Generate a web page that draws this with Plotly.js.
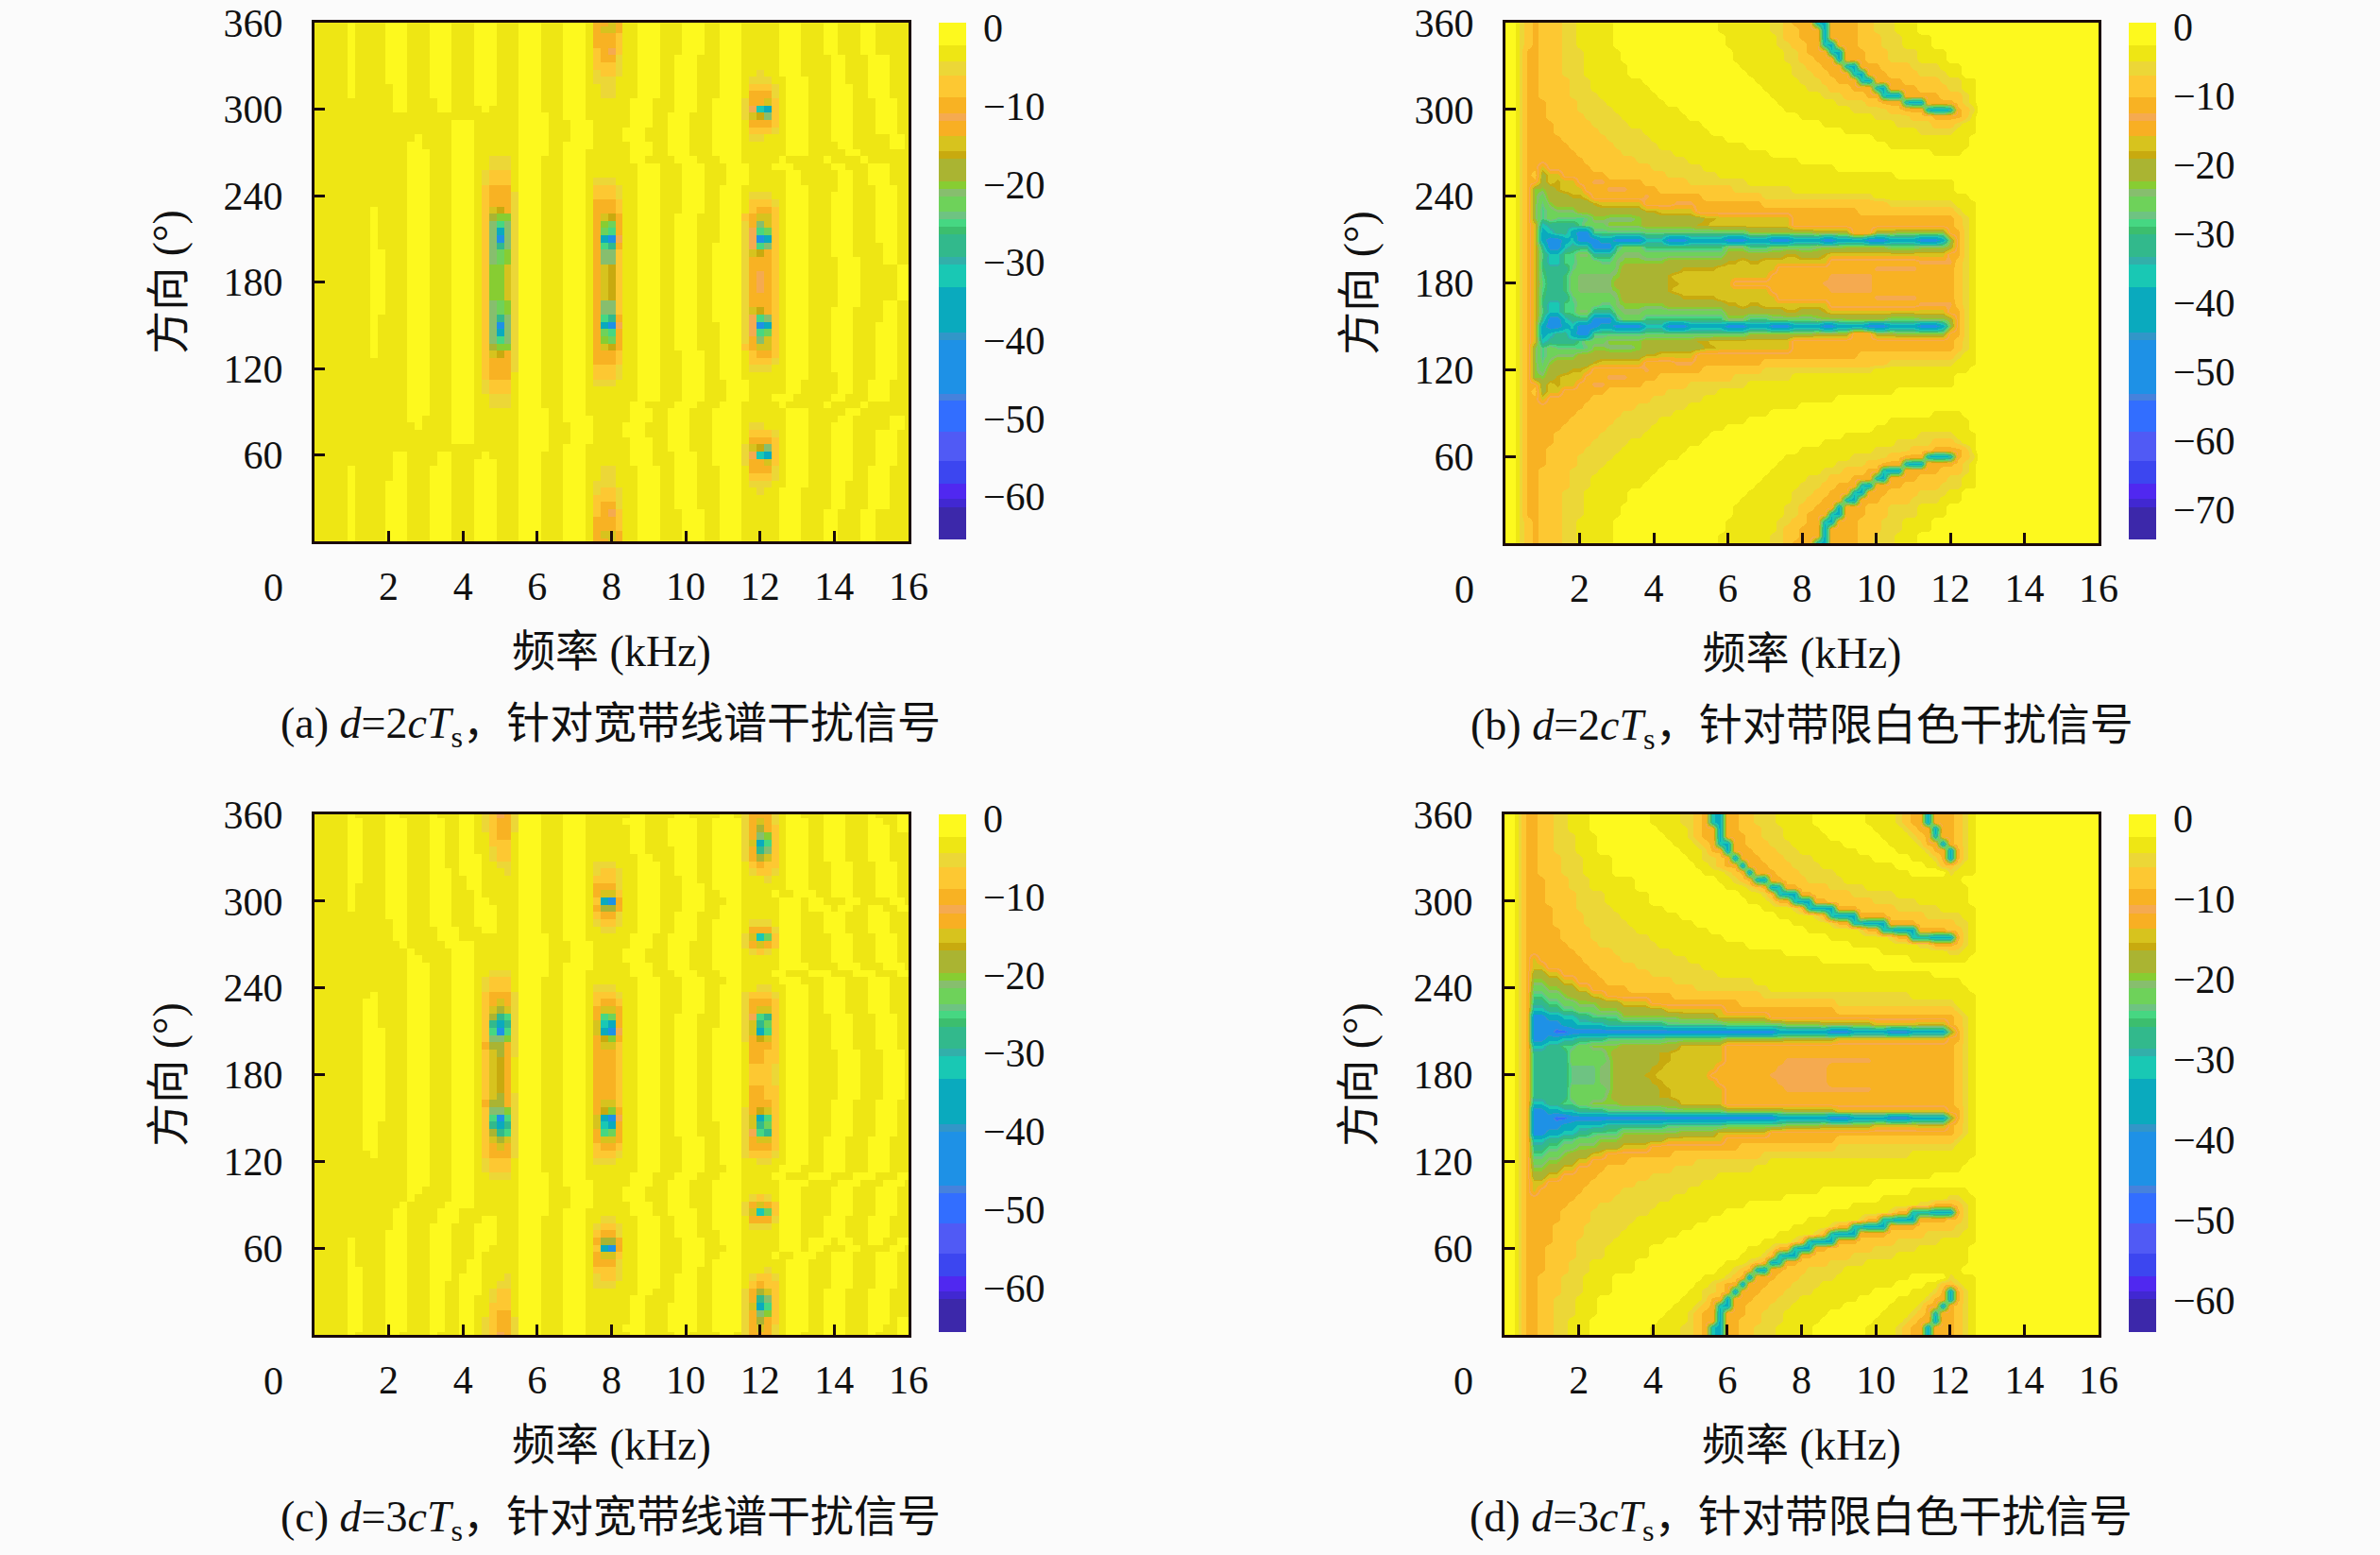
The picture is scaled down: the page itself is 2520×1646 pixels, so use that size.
<!DOCTYPE html>
<html>
<head>
<meta charset="utf-8">
<script src="https://cdn.plot.ly/plotly-3.0.1.min.js"></script>
<style>
html, body { margin: 0; padding: 0; background: #fbfbfb; }
#chart { width: 2520px; height: 1646px; }
</style>
</head>
<body>
<div id="chart"></div>
<script>
// grid of the response maps
var freqs = [0,0.2,0.4,0.6,0.8,1,1.2,1.4,1.6,1.8,2,2.2,2.4,2.6,2.8,3,3.2,3.4,3.6,3.8,4,4.2,4.4,4.6,4.8,5,5.2,5.4,5.6,5.8,6,6.2,6.4,6.6,6.8,7,7.2,7.4,7.6,7.8,8,8.2,8.4,8.6,8.8,9,9.2,9.4,9.6,9.8,10,10.2,10.4,10.6,10.8,11,11.2,11.4,11.6,11.8,12,12.2,12.4,12.6,12.8,13,13.2,13.4,13.6,13.8,14,14.2,14.4,14.6,14.8,15,15.2,15.4,15.6,15.8,16];
var dirs = [0,5,10,15,20,25,30,35,40,45,50,55,60,65,70,75,80,85,90,95,100,105,110,115,120,125,130,135,140,145,150,155,160,165,170,175,180,185,190,195,200,205,210,215,220,225,230,235,240,245,250,255,260,265,270,275,280,285,290,295,300,305,310,315,320,325,330,335,340,345,350,355,360];

// colour bands of the colour bar, top to bottom: key, lower edge (fraction of bar), colour
var bandKeys = ["a","b","c","d","e","f","E","g","h","i","j","k","l","m","n","o","p","q","r","s","t","u","v","w","x","y","z","A","B"];
var bandEdges = [0.043,0.075,0.102,0.145,0.175,0.191,0.22,0.249,0.263,0.307,0.322,0.336,0.366,0.38,0.395,0.41,0.453,0.468,0.511,0.599,0.614,0.718,0.732,0.791,0.849,0.892,0.922,0.937,1];
var bandColors = ["#fdf91e","#eee614","#ecd737","#fdc832","#f8b223","#f5aa50","#f8af23","#d7c31e","#c8aa0f","#aab432","#87cd32","#87be6e","#6ed25a","#6ec382","#46d782","#3cbe6e","#32b98c","#32afaa","#19c8b4","#0aaabe","#3296c8","#1e91e6","#4682dc","#326eff","#505af5","#3c46f0","#5028f0","#4128d2","#3c28aa"];

// top of the colour bar and its bottom, dB
var zRangeA = [-65.5, 0.66];
var zRangeB = [-74.4, 0.55];
var zRangeC = [-65.7, 0.55];
var zRangeD = [-64, 0.47];

// rows from 360 down to 180 degrees, "12a" = band a from column 12 on
var rowsA = [
"5a 6b 10a 13b 16a 19b 22a 25b 28a 31b 34a 37b 38e 39E 40g 41e 42b 44a 47b 50a 53b 55a 58b 63a 66b 69a 71b 74a 76b",
"5a 6b 10a 13b 16a 19b 22a 25b 28a 31b 34a 37b 38e 39g 41e 42b 44a 47b 50a 53b 55a 58b 63a 66b 69a 71b 74a 76b",
"5a 6b 10a 13b 16a 19b 22a 25b 28a 31b 34a 37b 38e 41d 42b 44a 47b 50a 53b 55a 58b 63a 66b 69a 71b 74a 76b",
"5a 6b 10a 13b 16a 19b 22a 25b 28a 31b 34a 37b 38e 41d 42b 44a 47b 50a 53b 55a 58b 63a 66b 69a 71b 74a 76b",
"5a 6b 10a 13b 16a 19b 22a 25b 28a 31b 34a 37b 38d 39e 40f 41d 42b 44a 47b 50a 53b 55a 58b 63a 66b 69a 71b 74a 76b",
"5a 6b 10a 13b 16a 19b 22a 25b 28a 31b 34a 37b 38d 39e 41c 42b 44a 47b 49a 52b 55a 58b 63a 66b 70a 72b 75a 78b",
"5a 6b 10a 13b 16a 19b 22a 25b 28a 31b 34a 37b 38d 41c 42b 44a 47b 49a 52b 55a 58b 63a 66b 70a 72b 75a 78b",
"5a 6b 10a 13b 16a 19b 22a 25b 28a 31b 34a 37b 38c 39d 41c 42b 44a 47b 49a 52b 55a 58b 60c 61b 63a 66b 70a 72b 75a 78b",
"5a 6b 10a 13b 16a 19b 22a 25b 28a 31b 34a 37b 38c 41b 44a 47b 49a 52b 55a 58b 59c 62b 64a 67b 70a 72b 75a 78b",
"5a 6b 11a 13b 16a 19b 22a 25b 28a 31b 34a 37b 39c 41b 44a 47b 49a 52b 55a 58b 59d 62c 63b 64a 67b 70a 73b 75a 78b",
"5a 6b 11a 13b 16a 19b 22a 25b 28a 31b 34a 37b 39c 41b 44a 47b 49a 52b 55a 58b 59e 62c 63b 64a 67b 70a 73b 75a 78b",
"11a 13b 17a 19b 22a 25b 28a 31b 34a 37b 43a 46b 49a 52b 54a 58c 59e 61g 62d 63b 64a 67b 70a 73b 76a 79b",
"11a 13b 17a 19b 23a 24b 28a 31b 34a 37b 43a 46b 49a 52b 54a 58c 59f 60r 61s 62d 63b 64a 67b 70a 73b 76a 79b",
"28a 32b 34a 37b 43a 46b 48a 51b 54a 58c 59g 60h 61k 62d 63b 64a 67b 70a 73b 76a 79b",
"19a 22b 28a 32b 35a 38b 43a 46b 48a 51b 54a 58b 59e 62d 63b 64a 67b 70a 73b 76a 79b",
"19a 22b 28a 32b 35a 38b 42a 45b 48a 51b 54a 58b 59d 62c 63b 64a 67b 70a 73b 76a 79b",
"14a 15b 19a 22b 28a 32b 35a 38b 42a 45b 48a 51b 54a 58b 59c 61b 64a 67b 70a 73b 78a 80b",
"13a 15b 19a 22b 28a 32b 34a 38b 43a 46b 48a 51b 54a 58b 64a 67b 71a 73b 78a 80b",
"13a 16b 19a 22b 28a 32b 34a 37b 43a 46b 48a 51b 54a 58b 64a 67b 72a 74b",
"13a 16b 19a 22b 24c 27b 28a 31b 34a 37b 43a 45b 49a 52b 55a 58b 63a 64b 69a 70b 74a 75b",
"13a 16b 19a 22b 24c 27b 28a 31b 34a 37b 44a 47b 50a 53b 56a 59b 62a 65b 70a 72b 75a 78b",
"13a 16b 19a 22b 23c 24d 27b 28a 31b 34a 37b 44a 47b 50a 53b 56a 59b 64a 66b 71a 73b 75a 78b",
"13a 16b 19a 22b 23c 24d 27b 28a 31b 34a 37b 38c 41b 44a 47b 50a 53b 56a 59b 64a 66b 71a 73b 75a 78b",
"13a 16b 19a 22b 23d 24e 27b 28a 31b 34a 37b 38d 41c 42b 44a 47b 50a 53b 55a 58b 64a 67b 71a 73b 76a 79b",
"13a 16b 19a 22b 23d 24e 27c 28a 31b 34a 37b 38d 41c 42b 44a 47b 50a 53b 55a 58b 59c 62b 64a 67b 70a 73b 76a 79b",
"13a 16b 19a 22b 23d 24e 27c 28a 31b 34a 37b 38e 41d 42b 44a 47b 50a 53b 55a 58b 59d 62c 63b 64a 67b 70a 73b 76a 79b",
"8a 9b 13a 16b 19a 22b 23d 24g 25h 26e 27c 28a 31b 34a 37b 38e 41d 42b 44a 47b 50a 53b 55a 58b 59d 60e 62d 63b 64a 67b 70a 73b 76a 79b",
"8a 9b 13a 16b 19a 22b 23d 24i 25j 27c 28a 31b 34a 37b 38e 39g 40h 41e 42b 44a 47b 49a 52b 55a 58d 59e 60g 62d 63b 64a 67b 70a 73b 76a 79b",
"8a 9b 13a 16b 19a 22b 23d 24k 25n 26k 27c 28a 31b 34a 37b 38e 39j 40l 41e 42b 44a 47b 49a 52b 55a 58c 59e 60k 61g 62d 63b 64a 67b 70a 73b 76a 79b",
"8a 9b 13a 16b 19a 22b 23d 24k 25s 26k 27c 28a 31b 34a 37b 38e 39l 40n 41e 42b 44a 47b 49a 52b 55a 58c 59f 60n 61l 62d 63b 64a 67b 70a 73b 76a 79b",
"8a 9b 13a 16b 19a 22b 23d 24k 25u 26k 27c 28a 31b 34a 37b 38e 39s 40u 41f 42b 44a 47b 49a 52b 55a 58c 59f 60u 61s 62d 63b 64a 67b 70a 73b 76a 79b",
"8a 9b 13a 16b 19a 22b 23d 24k 25p 26k 27c 28a 31b 34a 37b 38e 39n 40p 41e 42b 44a 47b 49a 52b 54a 58c 59f 60n 61k 62d 63b 64a 67b 70a 73b 77a 79b",
"8a 10b 13a 16b 19a 22b 23d 24k 25l 26j 27c 28a 31b 34a 37b 38e 39k 41d 42b 44a 47b 49a 52b 54a 58c 59g 60h 61e 62d 63b 64a 67b 70a 73b 77a 79b",
"8a 10b 13a 16b 19a 22b 23d 24k 25l 26j 27c 28a 31b 34a 37b 38e 39k 41d 42b 44a 47b 49a 52b 54a 58c 59e 62d 63b 64a 67b 71a 74b 77a 79b",
"8a 10b 13a 16b 19a 22b 23d 24j 26g 27c 28a 31b 34a 37b 38e 39g 40h 41d 42b 44a 47b 49a 52b 54a 58c 59e 62d 63b 64a 67b 71a 74b 79a",
"8a 10b 13a 16b 19a 22b 23d 24j 26g 27c 28a 31b 34a 37b 38e 39g 40h 41d 42b 44a 47b 49a 52b 54a 58c 59e 60f 61e 62d 63b 64a 67b 71a 74b 79a",
"8a 10b 13a 16b 19a 22b 23d 24j 26g 27c 28a 31b 34a 37b 38e 39g 40h 41d 42b 44a 47b 49a 52b 54a 58c 59e 60f 61e 62d 63b 64a 67b 71a 74b 79a"
];

var rowsB = [
"0a 2c 3d 4e 5d 8c 10b 15a 29b 36c 38d 39e 42r 43s 44e 48d 50c 53b 56a",
"0a 2c 3d 4e 5d 8c 10b 15a 29b 36c 38d 40e 43s 44e 48d 50c 53b 56a",
"0a 2c 3d 4e 5d 8c 10b 15a 30b 37c 38d 40e 43s 44e 48d 51c 54b 58a",
"0a 2c 3d 4e 5d 8c 10b 15a 30b 37c 39d 41e 43r 44s 45e 48d 51c 54b 58a",
"0a 2c 3e 5d 8c 11b 16a 31b 38c 40d 41e 44r 45s 46e 49d 52c 56b 60a",
"0a 2c 3e 5d 8c 11b 16a 31b 38c 40d 42e 45s 46e 49d 52c 56b 60a",
"0a 2c 3e 5d 8c 11b 17a 32b 39c 41d 43e 46r 47s 48e 51d 55c 59b 62a",
"0a 2c 3e 5d 8c 11b 17a 33b 39c 42d 44e 47r 48s 49e 52d 56c 60b 62a",
"0a 2c 3e 5d 9c 12b 19a 34b 40c 43d 45e 48r 49s 50e 54d 59c 62b 64a",
"0a 2c 3e 5d 9c 12b 20a 35b 41c 44d 47e 50r 51s 52e 56d 60c 62b 64a",
"0a 2c 3e 5d 9c 13b 21a 36b 43c 46d 49e 51r 52s 54e 59d 62c 63b 64a",
"0a 2c 3e 6d 10c 14b 22a 37b 45c 49d 51e 54r 55s 57e 61d 62c 63b 64a",
"0a 2c 3e 6d 10c 15b 24a 38b 47c 52d 54e 57r 58s 60r 61e 62d 63c 64a",
"0a 2c 3e 6d 11c 16b 25a 40b 50c 55d 58e 62d 63b 64a",
"0a 2c 3e 7d 12c 17b 27a 43b 53c 58d 61c 62b 64a",
"0a 2c 3e 7d 13c 19b 28a 46b 56c 61b 64a",
"0a 2c 3e 8d 14c 20b 30a 50b 63a",
"0a 2c 3e 9d 15c 21b 33a 52b 63a",
"0a 2c 3e 10d 16c 23b 36a 58b 62a",
"0a 2c 3e 11d 18c 25b 40a",
"0a 2c 3e 5g 6e 12d 20c 27b 45a",
"0a 2c 3e 4d 5i 6g 8e 14d 22c 29b 53a",
"0a 2c 3e 5i 6g 7h 8g 10e 12f 14e 19d 25c 33b 61a",
"0a 2c 3e 4j 6i 7h 8g 11e 14f 17e 21d 31c 39b 61a",
"0a 2c 3e 4j 5l 6i 9h 11g 12e 19f 20e 27d 35c 50b 63a",
"0a 2c 3e 4j 5m 6j 7i 12h 13g 19e 23f 26e 35d 52c 61b 64a",
"0a 2c 3e 4j 5n 6l 7k 10i 19h 21g 26e 48d 61c 62b 64a",
"0a 2c 3e 4j 5n 6l 7m 10n 11m 12j 14k 18j 19i 27h 29g 39e 61d 62c 63b 64a",
"0a 2c 3e 4g 5r 6p 10n 11l 14j 19i 26h 28g 39e 61d 62c 63b 64a",
"0a 2c 3e 4g 5s 6r 7p 9s 10u 12n 19m 33j 42i 47e 50i 53j 60e 62c 63b 64a",
"0a 2c 3e 4g 5s 6u 8s 9r 10u 13s 15u 19r 22u 25s 30u 33s 36u 39s 43u 45s 49u 52s 56u 59s 60j 61e 62c 63b 64a",
"0a 2c 3e 4g 5p 6u 8r 9p 12u 15o 16l 19o 30k 33o 36l 42k 46j 52l 56k 60i 61e 62c 63b 64a",
"0a 2c 3e 4g 5n 6r 8n 10k 12p 15l 16k 19l 30i 38h 40i 43h 44g 60e 62c 63b 64a",
"0a 2c 3e 4g 5o 6r 8n 10l 13m 15k 16j 22i 30h 32g 33h 35g 44e 56f 61d 62c 63b 64a",
"0a 2c 3e 4g 5o 6p 9m 10l 15k 16i 24h 29g 37e 50f 56e 61d 62c 63b 64a",
"0a 2c 3e 4g 5n 6p 8o 9l 10k 15j 16i 22h 23g 36e 44f 50e 61d 62c 63b 64a",
"0a 2c 3e 4g 5m 6p 8o 9l 10k 15i 22h 24g 31e 43f 50e 61d 62c 63b 64a"
];

var rowsC = [
"5a 6b 10a 12b 16a 17b 20a 22b 23c 24d 25f 26e 27c 28a 31b 34a 37b 43a 45b 49a 51b 55a 57b 58c 59e 62c 63b 64a 66b 69a 72b 75a 76b 79a",
"5a 7b 10a 13b 16a 18b 20a 22b 23c 24d 25e 27c 28a 31b 34a 37b 42a 45b 48a 52b 54a 58c 59e 60g 61e 62c 63b 64a 67b 69a 72b 75a 77b 79a",
"5a 7b 10a 13b 16a 18b 20a 22b 23c 24d 25e 27c 28a 31b 34a 37b 43a 45b 48a 52b 54a 58c 59e 60i 61e 62d 63b 64a 67b 69a 72b 75a 78b 79a",
"5a 7b 10a 13b 16a 18b 20a 22b 24d 25e 27b 28a 31b 34a 37b 43a 45b 48a 52b 54a 58c 59e 60k 61j 62d 63b 64a 67b 69a 72b 75a 78b",
"5a 7b 10a 13b 16a 18b 20a 22b 24d 27b 28a 31b 34a 37b 43a 45b 48a 52b 54a 58c 59g 60s 61n 62d 63b 64a 67b 69a 72b 75a 78b",
"5a 7b 10a 13b 16a 18b 20a 22b 24c 25d 27b 28a 31b 34a 37b 43a 45b 49a 52b 54a 58c 59e 60p 61k 62d 63b 64a 67b 69a 72b 75a 78b",
"5a 7b 10a 13b 16a 18b 20a 23b 24c 25d 27b 28a 31b 34a 37b 44a 46b 49a 52b 54a 58c 59e 60i 61g 62d 63b 64a 67b 69a 72b 75a 78b",
"5a 7b 10a 13b 16a 18b 20a 23b 25c 27b 28a 31b 34a 37b 38c 41b 44a 47b 49a 52b 54a 58b 59d 60e 61d 63b 64a 67b 70a 73b 76a 79b",
"5a 7b 10a 13b 16a 19b 20a 23b 26c 27b 28a 31b 34a 37b 38c 39d 41c 42b 44a 47b 49a 52b 54a 58b 59c 60d 62c 63b 64a 67b 70a 73b 76a 79b",
"5a 7b 10a 13b 16a 19b 21a 23b 28a 31b 34a 37b 38d 41c 42b 44a 47b 50a 52b 54a 58b 61c 62b 64a 67b 70a 73b 76a 79b",
"5a 6b 10a 13b 16a 19b 21a 23b 28a 31b 34a 37b 38e 41c 42b 44a 47b 50a 53b 54a 58b 64a 67b 70a 73b 76a 79b",
"5a 6b 10a 13b 16a 19b 22a 23b 28a 31b 34a 37b 38e 39g 41d 42b 44a 47b 50a 53b 55a 58b 62a 63b 65a 68b 70a 73b 76a 79b",
"5a 6b 10a 13b 16a 19b 22a 24b 28a 31b 34a 37b 38d 39s 40u 41E 42b 44a 47b 50a 53b 56a 58b 63a 66b 67a 69b 72a 74b 78a 80b",
"5a 6b 10a 13b 16a 19b 22a 25b 28a 31b 34a 37b 38e 39i 41e 42b 44a 47b 50a 53b 55a 58b 63a 66b 67a 70b 71a 73b 75a 77b 79a",
"10a 13b 16a 19b 22a 25b 28a 31b 34a 37b 38d 39e 41c 42b 44a 47b 49a 52b 55a 58b 63a 66b 69a 72b 75a 78b",
"11a 13b 16a 19b 22a 25b 28a 31b 34a 37b 38c 39d 41c 42b 44a 47b 49a 52b 54a 58b 59c 62b 63a 66b 69a 72b 75a 78b",
"11a 13b 17a 20b 23a 25b 28a 31b 34a 37b 39c 41b 44a 47b 49a 52b 54a 58b 59e 62c 63a 66b 69a 72b 75a 78b",
"11a 13b 17a 20b 28a 32b 34a 37b 43a 46b 48a 52b 54a 58c 59g 60r 61l 62d 63a 66b 70a 73b 76a 79b",
"12a 13b 18a 22b 28a 32b 35a 38b 43a 46b 48a 51b 54a 58c 59e 60g 61e 62d 63a 66b 70a 73b 76a 79b",
"13a 14b 19a 22b 28a 32b 35a 38b 42a 45b 48a 51b 54a 58b 59c 60d 61c 62b 63a 66b 70a 73b 76a 79b",
"13a 15b 19a 22b 28a 32b 35a 38b 42a 45b 48a 51b 54a 58b 63a 66b 70a 73b 76a 79b",
"13a 16b 19a 22b 28a 32b 34a 38b 43a 46b 48a 51b 54a 58b 63a 67b 71a 74b 77a 80b",
"13a 16b 19a 22b 24c 27b 28a 32b 34a 37b 43a 46b 49a 52b 55a 58b 62a 64b 67a 70b 73a 76b 79a",
"13a 16b 19a 22b 23c 24d 27b 28a 31b 34a 37b 44a 47b 50a 53b 56a 58b 63a 66b 69a 72b 75a 78b",
"13a 16b 19a 22b 23c 24d 27b 28a 31b 34a 37b 38c 41b 44a 47b 50a 53b 55a 58b 60c 62b 64a 67b 69a 72b 75a 78b",
"8a 9b 13a 16b 19a 22b 23d 24e 27c 28a 31b 34a 37b 38d 41c 42b 44a 47b 50a 53b 55a 58c 59d 62c 63b 64a 67b 69a 72b 75a 78b",
"7a 9b 13a 16b 19a 22b 23d 24e 25g 26e 27c 28a 31b 34a 37b 38d 39e 41d 42b 44a 47b 50a 53b 55a 58c 59e 62d 63b 64a 67b 69a 72b 75a 78b",
"7a 9b 13a 16b 19a 22b 23d 24g 25i 26g 27c 28a 31b 34a 37b 38e 39g 41e 42b 44a 47b 50a 53b 55a 58c 59e 60g 62d 63b 64a 67b 69a 72b 75a 78b",
"7a 9b 13a 16b 19a 22b 23d 24i 25p 26n 27c 28a 31b 34a 37b 38e 39n 40l 41e 42b 44a 47b 49a 52b 55a 58c 59f 60n 61p 62d 63b 64a 67b 70a 73b 76a 79b",
"7a 9b 13a 16b 19a 22b 23d 24p 25s 26p 27c 28a 31b 34a 37b 38g 39r 40s 41e 42b 44a 47b 49a 52b 55a 58c 59g 60p 61l 62d 63b 64a 67b 70a 73b 76a 79b",
"7a 10b 13a 16b 19a 22b 23d 24n 25u 26n 27c 28a 31b 34a 37b 38g 39s 40u 41f 42b 44a 47b 49a 52b 54a 58c 59g 60s 61n 62d 63b 64a 67b 70a 73b 76a 79b",
"7a 10b 13a 16b 19a 22b 23d 24k 26j 27c 28a 31b 34a 37b 38e 39h 40j 41e 42b 44a 47b 49a 52b 54a 58c 59e 60h 61g 62d 63b 64a 67b 70a 73b 76a 79b",
"7a 10b 13a 16b 19a 22b 23e 24i 26e 27c 28a 31b 34a 37b 38e 39g 41d 42b 44a 47b 49a 52b 54a 58b 59e 62d 63b 64a 67b 70a 73b 76a 79b",
"7a 10b 13a 16b 19a 22b 23d 24g 25i 26e 27c 28a 31b 34a 37b 38e 41d 42b 44a 47b 49a 52b 54a 58b 59e 61d 63b 64a 67b 71a 74b 77a 80b",
"7a 10b 13a 16b 19a 22b 23d 24g 25h 26e 27b 28a 31b 34a 37b 38e 41d 42b 44a 47b 49a 52b 54a 58b 59e 61d 63b 64a 67b 71a 74b 77a 80b",
"7a 10b 13a 16b 19a 22b 23d 24g 25h 26e 27b 28a 31b 34a 37b 38e 41d 42b 44a 47b 49a 52b 54a 58b 59d 62c 63b 64a 67b 71a 74b 77a 80b",
"7a 10b 13a 16b 19a 22b 23d 24g 25h 26e 27b 28a 31b 34a 37b 38e 41d 42b 44a 47b 49a 52b 54a 58b 59d 62c 63b 64a 67b 71a 74b 77a 80b"
];

var rowsD = [
"0a 2c 3e 5d 7c 9b 12a 20b 24c 26d 27e 28r 29s 30e 32d 34c 37b 42a 49b 53c 54d 55e 57s 58e 61d 62c 63b 64a",
"0a 2c 3e 5d 7c 9b 12a 20b 24c 26d 27e 28r 29s 30e 32d 34c 37b 42a 49b 53c 54d 55e 57s 58e 61d 62c 63b 64a",
"0a 2c 3e 5d 7c 9b 12a 21b 25c 26d 27e 29s 30e 32d 35c 38b 43a 50b 54c 55d 56e 58s 59e 61d 62c 63b 64a",
"0a 2c 3e 5d 7c 10b 13a 22b 25c 26d 27e 29s 30e 33d 35c 38b 44a 51b 55c 56d 57e 58r 59e 61d 62c 63b 64a",
"0a 2c 3e 5d 7c 10b 13a 23b 26c 27d 28e 29r 30s 31e 33d 36c 39b 46a 52b 56c 57e 59s 60e 61d 62c 63b 64a",
"0a 2c 3e 5d 7c 10b 13a 24b 27c 28e 30s 31e 34d 37c 40b 48a 53b 57c 58e 60s 61e 62c 63b 64a",
"0a 2c 3e 5d 8c 11b 15a 25b 27c 29d 30e 31s 32e 35d 38c 42b 50a 55b 58c 59e 60s 61e 62c 63b 64a",
"0a 2c 3e 5d 8c 11b 15a 26b 28c 29d 30e 32s 33e 36d 39c 43b 53a 57b 59d 61c 62b 64a",
"0a 2c 3e 5d 8c 11b 15a 27b 30c 31d 32e 33s 34e 37d 40c 45b 55a 60c 61b 64a",
"0a 2c 3e 6d 9c 12b 18a 29b 31c 32d 33e 34r 35s 36e 38d 41c 46b 62a",
"0a 2c 3e 6d 9c 12b 18a 30b 33c 34d 35e 36s 37r 38e 40d 44c 49b 63a",
"0a 2c 3e 6d 10c 14b 20a 32b 35c 36e 37r 38s 40e 42d 47c 53b 63a",
"0a 2c 3e 6d 10c 14b 20a 33b 36c 37e 39r 40s 42e 44d 50c 56b 63a",
"0a 2c 3e 7d 10c 15b 22a 35b 39c 40e 41r 42s 45e 48d 53c 59b 64a",
"0a 2c 3e 7d 11c 16b 24a 37b 42c 43e 44r 45s 48e 52d 57c 62b 64a",
"0a 2c 3e 7d 11c 17b 26a 39b 44c 45e 47r 49s 52e 56d 61c 63b 64a",
"0a 2c 3e 8d 12c 18b 28a 41b 48c 49e 51r 53s 56e 60d 62c 63b 64a",
"0a 2c 3e 8d 12c 20b 30a 44b 52c 53e 55r 58s 61e 62c 63b 64a",
"0a 2c 3e 9d 13c 21b 33a 47b 56c 58e 61d 62c 63b 64a",
"0a 2c 3e 10d 15c 23b 38a 51b 60c 62b 64a",
"0a 2c 3e 4g 5e 11d 16c 25b 43a 55b 63a",
"0a 2c 3e 4g 6e 12d 18c 27b 50a",
"0a 2c 3e 4i 6g 8e 13d 20c 29b 58a",
"0a 2c 3e 4j 6i 8g 10e 14d 23c 34b 62a",
"0a 2c 3e 4l 6j 8i 10g 12e 17d 26c 36b 63a",
"0a 2c 3e 4n 6l 8j 9i 12g 14e 23d 35c 55b 64a",
"0a 2c 3e 4p 6n 8l 10j 13i 16g 20e 32d 45c 61b 64a",
"0a 2c 3e 4r 6p 8n 10l 13j 16i 22g 30e 45d 61c 62b 64a",
"0a 2c 3e 4u 6s 8r 10p 12n 16j 24i 29g 36e 61d 62c 63b 64a",
"0a 2c 3e 4u 8s 10r 14p 22n 30l 38j 43i 50g 56h 60e 61d 62c 63b 64a",
"0a 2c 3e 4u 7w 9u 37s 44u 47s 52u 55s 60j 61e 62c 63b 64a",
"0a 2c 3e 4u 6s 8r 10p 14n 22l 30j 38i 45g 60e 62c 63b 64a",
"0a 2c 3e 4r 6p 8n 10l 12j 16i 24g 30e 61d 62c 63b 64a",
"0a 2c 3e 4p 9l 14j 15i 21h 23g 30e 61d 62c 63b 64a",
"0a 2c 3e 4p 9l 14k 15i 21h 23g 30e 38f 50e 61d 62c 63b 64a",
"0a 2c 3e 4p 9m 13k 15i 20h 22g 29e 37f 44e 61d 62c 63b 64a",
"0a 2c 3e 4p 9m 13k 15i 19h 21g 28e 36f 44e 61d 62c 63b 64a"
];

var xTicks = [2, 4, 6, 8, 10, 12, 14, 16];
var yTicks = [60, 120, 180, 240, 300, 360];
var barTicksA = [0, -10, -20, -30, -40, -50, -60];
var barTicksB = [0, -10, -20, -30, -40, -50, -60, -70];

var captions = [
    "(a) <i>d</i>=2<i>cT</i><sub>s</sub>，针对宽带线谱干扰信号",
    "(b) <i>d</i>=2<i>cT</i><sub>s</sub>，针对带限白色干扰信号",
    "(c) <i>d</i>=3<i>cT</i><sub>s</sub>，针对宽带线谱干扰信号",
    "(d) <i>d</i>=3<i>cT</i><sub>s</sub>，针对带限白色干扰信号"
];

var W = 2520, H = 1646;
var textFont = "'Liberation Serif', 'Noto Sans CJK SC', serif";

function stepScale() {
    var scale = [];
    for (var i = bandKeys.length - 1; i >= 0; i--) {
        var top = i === 0 ? 0 : bandEdges[i - 1];
        scale.push([1 - bandEdges[i], bandColors[i]]);
        scale.push([1 - top, bandColors[i]]);
    }
    return scale;
}

function bandValue(key, range) {
    var i = bandKeys.indexOf(key);
    var top = i === 0 ? 0 : bandEdges[i - 1];
    var mid = (top + bandEdges[i]) / 2;
    return range[1] - mid * (range[1] - range[0]);
}

function decodeRow(text, base, range) {
    var row = [];
    var tokens = text.split(" ");
    var key = base, t = 0;
    for (var c = 0; c < freqs.length; c++) {
        while (t < tokens.length && parseInt(tokens[t]) <= c) {
            key = tokens[t].replace(/[0-9]/g, "");
            t++;
        }
        row.push(bandValue(key, range));
    }
    return row;
}

// the maps are symmetric about 180 degrees: rows hold 360..180, row m also serves 5m degrees
function decodeMap(rows, base, range) {
    var z = [];
    for (var m = 0; m < dirs.length; m++) {
        z.push(decodeRow(rows[m <= 36 ? m : 72 - m], base, range));
    }
    return z;
}

var panels = [
    {rows: rowsA, base: "b", range: zRangeA, ticks: barTicksA, smooth: false, left: 333, right: 962, top: 24, bottom: 573, barX: 994, barLen: 547},
    {rows: rowsB, base: "a", range: zRangeB, ticks: barTicksB, smooth: "best", left: 1594, right: 2222, top: 24, bottom: 575, barX: 2254, barLen: 547},
    {rows: rowsC, base: "b", range: zRangeC, ticks: barTicksA, smooth: false, left: 333, right: 962, top: 862, bottom: 1413, barX: 994, barLen: 548},
    {rows: rowsD, base: "a", range: zRangeD, ticks: barTicksA, smooth: "best", left: 1593, right: 2222, top: 862, bottom: 1413, barX: 2254, barLen: 548}
];

var data = [];
var layout = {
    width: W,
    height: H,
    margin: {l: 0, r: 0, t: 0, b: 0},
    paper_bgcolor: "#fbfbfb",
    plot_bgcolor: "#fbfbfb",
    font: {family: textFont, size: 42, color: "#111"},
    showlegend: false,
    annotations: []
};

panels.forEach(function (p, i) {
    var n = i === 0 ? "" : String(i + 1);
    data.push({
        type: "heatmap",
        x: freqs,
        y: dirs,
        z: decodeMap(p.rows, p.base, p.range),
        xaxis: "x" + n,
        yaxis: "y" + n,
        zmin: p.range[0],
        zmax: p.range[1],
        zsmooth: p.smooth,
        colorscale: stepScale(),
        hoverinfo: "skip",
        colorbar: {
            x: p.barX / W,
            xanchor: "left",
            y: 1 - p.top / H,
            yanchor: "top",
            xpad: 0,
            ypad: 0,
            thickness: 29,
            thicknessmode: "pixels",
            len: p.barLen,
            lenmode: "pixels",
            outlinewidth: 0,
            tickmode: "array",
            tickvals: p.ticks,
            ticktext: p.ticks.map(function (v) { return v === 0 ? "0" : "−" + Math.abs(v); }),
            ticks: "outside",
            ticklen: 10,
            tickwidth: 1,
            tickcolor: "rgba(0,0,0,0)",
            tickfont: {family: textFont, size: 42, color: "#111"}
        }
    });
    layout["xaxis" + n] = {
        domain: [p.left / W, p.right / W],
        range: [0, 16],
        anchor: "y" + n,
        tickmode: "array",
        tickvals: xTicks,
        ticks: "inside",
        ticklen: 11,
        tickwidth: 3,
        tickcolor: "#1a0a0a",
        ticklabelstandoff: 9,
        tickfont: {family: textFont, size: 42, color: "#111"},
        showline: true,
        mirror: true,
        linecolor: "#1a0a0a",
        linewidth: 3,
        showgrid: false,
        zeroline: false,
        title: {text: "频率 (kHz)", standoff: 30, font: {family: textFont, size: 46, color: "#111"}}
    };
    layout["yaxis" + n] = {
        domain: [1 - p.bottom / H, 1 - p.top / H],
        range: [0, 360],
        anchor: "x" + n,
        tickmode: "array",
        tickvals: yTicks,
        ticks: "inside",
        ticklen: 11,
        tickwidth: 3,
        tickcolor: "#1a0a0a",
        ticklabelstandoff: 22,
        tickfont: {family: textFont, size: 42, color: "#111"},
        showline: true,
        mirror: true,
        linecolor: "#1a0a0a",
        linewidth: 3,
        showgrid: false,
        zeroline: false,
        title: {text: "方向 (°)", standoff: 28, font: {family: textFont, size: 46, color: "#111"}}
    };
    // the origin label sits left of the axis corner
    layout.annotations.push({
        xref: "paper", yref: "paper",
        x: (p.left - 44) / W, y: 1 - (p.bottom + 49) / H,
        xanchor: "center", yanchor: "middle",
        text: "0", showarrow: false,
        font: {family: textFont, size: 42, color: "#111"}
    });
    layout.annotations.push({
        xref: "paper", yref: "paper",
        x: (p.left + 314) / W, y: 1 - (p.bottom + 196) / H,
        xanchor: "center", yanchor: "middle",
        text: captions[i], showarrow: false,
        font: {family: textFont, size: 46, color: "#111"}
    });
});

Plotly.newPlot("chart", data, layout, {displayModeBar: false, staticPlot: true});
</script>
</body>
</html>
